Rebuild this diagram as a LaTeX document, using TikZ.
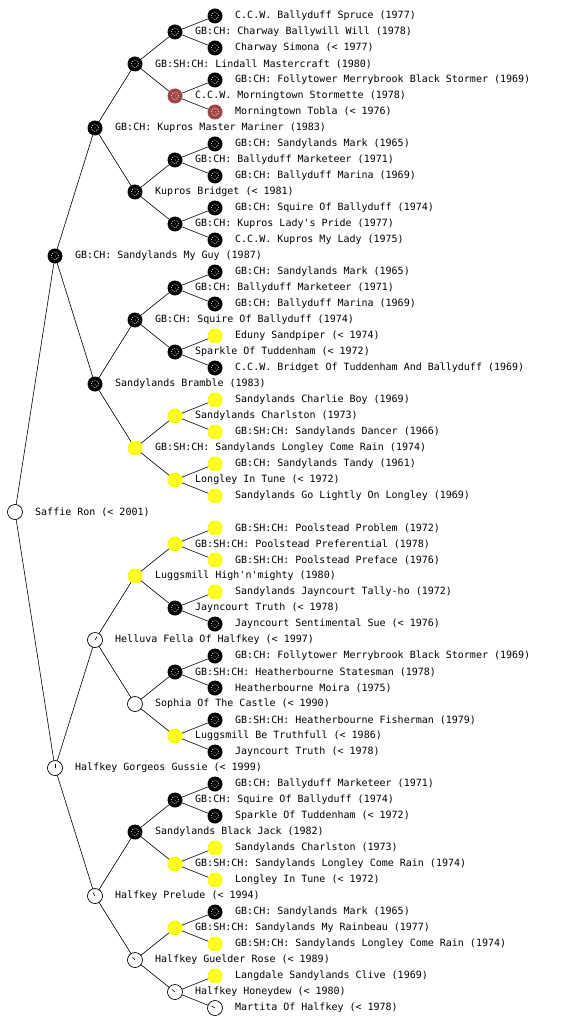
\documentclass[tikz,border=0pt]{standalone}
\usepackage{fontspec}
\newfontfamily\lblfont{DejaVu Sans Mono}
\definecolor{redbrown}{RGB}{160,70,70}
\definecolor{yel}{RGB}{255,255,0}
\tikzset{
  dogbase/.style={circle, minimum size=15pt, inner sep=0pt, outer sep=0pt},
  speck/.style={path picture={
      \draw[white, line width=0.7pt, dash pattern=on 0.7pt off 1.3pt] (path picture bounding box.center) circle (3.6pt);
      \fill[white] (path picture bounding box.center) circle (0.5pt);}},
  blk/.style={dogbase, fill=black, speck},
  red/.style={dogbase, fill=redbrown, speck},
  yel/.style={dogbase, fill=yel, speck},
  wht/.style={dogbase, draw=black, fill=white, line width=0.7pt},
  hand/.style={path picture={\draw[line width=0.6pt] (path picture bounding box.center) -- ++(#1:4pt);}},
  dot/.style={path picture={\fill (path picture bounding box.center) circle (0.6pt);}},
  lab/.style={anchor=west, inner sep=0pt, font=\lblfont\fontsize{10pt}{12pt}\selectfont},
  edge/.style={line width=0.6pt, black}
}
\begin{document}
\begin{tikzpicture}[x=1pt,y=-1pt]
\useasboundingbox (0,0) rectangle (560,1024);
% nodes
\node[blk] (n1) at (215,16) {};
\node[blk] (n2) at (175,32) {};
\node[blk] (n3) at (215,48) {};
\node[blk] (n4) at (135,64) {};
\node[blk] (n5) at (215,80) {};
\node[red] (n6) at (175,96) {};
\node[red] (n7) at (215,112) {};
\node[blk] (n8) at (95,128) {};
\node[blk] (n9) at (215,144) {};
\node[blk] (n10) at (175,160) {};
\node[blk] (n11) at (215,176) {};
\node[blk] (n12) at (135,192) {};
\node[blk] (n13) at (215,208) {};
\node[blk] (n14) at (175,224) {};
\node[blk] (n15) at (215,240) {};
\node[blk] (n16) at (55,256) {};
\node[blk] (n17) at (215,272) {};
\node[blk] (n18) at (175,288) {};
\node[blk] (n19) at (215,304) {};
\node[blk] (n20) at (135,320) {};
\node[yel] (n21) at (215,336) {};
\node[blk] (n22) at (175,352) {};
\node[blk] (n23) at (215,368) {};
\node[blk] (n24) at (95,384) {};
\node[yel] (n25) at (215,400) {};
\node[yel] (n26) at (175,416) {};
\node[yel] (n27) at (215,432) {};
\node[yel] (n28) at (135,448) {};
\node[yel] (n29) at (215,464) {};
\node[yel] (n30) at (175,480) {};
\node[yel] (n31) at (215,496) {};
\node[wht,dot] (n32) at (15,512) {};
\node[yel] (n33) at (215,528) {};
\node[yel] (n34) at (175,544) {};
\node[yel] (n35) at (215,560) {};
\node[yel] (n36) at (135,576) {};
\node[yel] (n37) at (215,592) {};
\node[blk] (n38) at (175,608) {};
\node[blk] (n39) at (215,624) {};
\node[wht,hand=60] (n40) at (95,640) {};
\node[blk] (n41) at (215,656) {};
\node[blk] (n42) at (175,672) {};
\node[blk] (n43) at (215,688) {};
\node[wht,dot] (n44) at (135,704) {};
\node[blk] (n45) at (215,720) {};
\node[yel] (n46) at (175,736) {};
\node[blk] (n47) at (215,752) {};
\node[wht,hand=90] (n48) at (55,768) {};
\node[blk] (n49) at (215,784) {};
\node[blk] (n50) at (175,800) {};
\node[blk] (n51) at (215,816) {};
\node[blk] (n52) at (135,832) {};
\node[yel] (n53) at (215,848) {};
\node[yel] (n54) at (175,864) {};
\node[yel] (n55) at (215,880) {};
\node[wht,hand=120] (n56) at (95,896) {};
\node[blk] (n57) at (215,912) {};
\node[yel] (n58) at (175,928) {};
\node[yel] (n59) at (215,944) {};
\node[wht,hand=130] (n60) at (135,960) {};
\node[yel] (n61) at (215,976) {};
\node[wht,hand=140] (n62) at (175,992) {};
\node[wht,hand=150] (n63) at (215,1008) {};
% edges
\foreach \p/\a/\b in {2/1/3,6/5/7,10/9/11,14/13/15,18/17/19,22/21/23,26/25/27,30/29/31,
  34/33/35,38/37/39,42/41/43,46/45/47,50/49/51,54/53/55,58/57/59,62/61/63,
  4/2/6,12/10/14,20/18/22,28/26/30,36/34/38,44/42/46,52/50/54,60/58/62,
  8/4/12,24/20/28,40/36/44,56/52/60,16/8/24,48/40/56,32/16/48}{
  \draw[edge] (n\p) -- (n\a);
  \draw[edge] (n\p) -- (n\b);
}
% labels
\node[lab] (t1) at (235,16) {C.C.W. Ballyduff Spruce (1977)};
\node[lab] (t2) at (195,32) {GB:CH: Charway Ballywill Will (1978)};
\node[lab] (t3) at (235,48) {Charway Simona (< 1977)};
\node[lab] (t4) at (155,64) {GB:SH:CH: Lindall Mastercraft (1980)};
\node[lab] (t5) at (235,80) {GB:CH: Follytower Merrybrook Black Stormer (1969)};
\node[lab] (t6) at (195,96) {C.C.W. Morningtown Stormette (1978)};
\node[lab] (t7) at (235,112) {Morningtown Tobla (< 1976)};
\node[lab] (t8) at (115,128) {GB:CH: Kupros Master Mariner (1983)};
\node[lab] (t9) at (235,144) {GB:CH: Sandylands Mark (1965)};
\node[lab] (t10) at (195,160) {GB:CH: Ballyduff Marketeer (1971)};
\node[lab] (t11) at (235,176) {GB:CH: Ballyduff Marina (1969)};
\node[lab] (t12) at (155,192) {Kupros Bridget (< 1981)};
\node[lab] (t13) at (235,208) {GB:CH: Squire Of Ballyduff (1974)};
\node[lab] (t14) at (195,224) {GB:CH: Kupros Lady's Pride (1977)};
\node[lab] (t15) at (235,240) {C.C.W. Kupros My Lady (1975)};
\node[lab] (t16) at (75,256) {GB:CH: Sandylands My Guy (1987)};
\node[lab] (t17) at (235,272) {GB:CH: Sandylands Mark (1965)};
\node[lab] (t18) at (195,288) {GB:CH: Ballyduff Marketeer (1971)};
\node[lab] (t19) at (235,304) {GB:CH: Ballyduff Marina (1969)};
\node[lab] (t20) at (155,320) {GB:CH: Squire Of Ballyduff (1974)};
\node[lab] (t21) at (235,336) {Eduny Sandpiper (< 1974)};
\node[lab] (t22) at (195,352) {Sparkle Of Tuddenham (< 1972)};
\node[lab] (t23) at (235,368) {C.C.W. Bridget Of Tuddenham And Ballyduff (1969)};
\node[lab] (t24) at (115,384) {Sandylands Bramble (1983)};
\node[lab] (t25) at (235,400) {Sandylands Charlie Boy (1969)};
\node[lab] (t26) at (195,416) {Sandylands Charlston (1973)};
\node[lab] (t27) at (235,432) {GB:SH:CH: Sandylands Dancer (1966)};
\node[lab] (t28) at (155,448) {GB:SH:CH: Sandylands Longley Come Rain (1974)};
\node[lab] (t29) at (235,464) {GB:CH: Sandylands Tandy (1961)};
\node[lab] (t30) at (195,480) {Longley In Tune (< 1972)};
\node[lab] (t31) at (235,496) {Sandylands Go Lightly On Longley (1969)};
\node[lab] (t32) at (35,512) {Saffie Ron (< 2001)};
\node[lab] (t33) at (235,528) {GB:SH:CH: Poolstead Problem (1972)};
\node[lab] (t34) at (195,544) {GB:SH:CH: Poolstead Preferential (1978)};
\node[lab] (t35) at (235,560) {GB:SH:CH: Poolstead Preface (1976)};
\node[lab] (t36) at (155,576) {Luggsmill High'n'mighty (1980)};
\node[lab] (t37) at (235,592) {Sandylands Jayncourt Tally-ho (1972)};
\node[lab] (t38) at (195,608) {Jayncourt Truth (< 1978)};
\node[lab] (t39) at (235,624) {Jayncourt Sentimental Sue (< 1976)};
\node[lab] (t40) at (115,640) {Helluva Fella Of Halfkey (< 1997)};
\node[lab] (t41) at (235,656) {GB:CH: Follytower Merrybrook Black Stormer (1969)};
\node[lab] (t42) at (195,672) {GB:SH:CH: Heatherbourne Statesman (1978)};
\node[lab] (t43) at (235,688) {Heatherbourne Moira (1975)};
\node[lab] (t44) at (155,704) {Sophia Of The Castle (< 1990)};
\node[lab] (t45) at (235,720) {GB:SH:CH: Heatherbourne Fisherman (1979)};
\node[lab] (t46) at (195,736) {Luggsmill Be Truthfull (< 1986)};
\node[lab] (t47) at (235,752) {Jayncourt Truth (< 1978)};
\node[lab] (t48) at (75,768) {Halfkey Gorgeos Gussie (< 1999)};
\node[lab] (t49) at (235,784) {GB:CH: Ballyduff Marketeer (1971)};
\node[lab] (t50) at (195,800) {GB:CH: Squire Of Ballyduff (1974)};
\node[lab] (t51) at (235,816) {Sparkle Of Tuddenham (< 1972)};
\node[lab] (t52) at (155,832) {Sandylands Black Jack (1982)};
\node[lab] (t53) at (235,848) {Sandylands Charlston (1973)};
\node[lab] (t54) at (195,864) {GB:SH:CH: Sandylands Longley Come Rain (1974)};
\node[lab] (t55) at (235,880) {Longley In Tune (< 1972)};
\node[lab] (t56) at (115,896) {Halfkey Prelude (< 1994)};
\node[lab] (t57) at (235,912) {GB:CH: Sandylands Mark (1965)};
\node[lab] (t58) at (195,928) {GB:SH:CH: Sandylands My Rainbeau (1977)};
\node[lab] (t59) at (235,944) {GB:SH:CH: Sandylands Longley Come Rain (1974)};
\node[lab] (t60) at (155,960) {Halfkey Guelder Rose (< 1989)};
\node[lab] (t61) at (235,976) {Langdale Sandylands Clive (1969)};
\node[lab] (t62) at (195,992) {Halfkey Honeydew (< 1980)};
\node[lab] (t63) at (235,1008) {Martita Of Halfkey (< 1978)};
\end{tikzpicture}
\end{document}
